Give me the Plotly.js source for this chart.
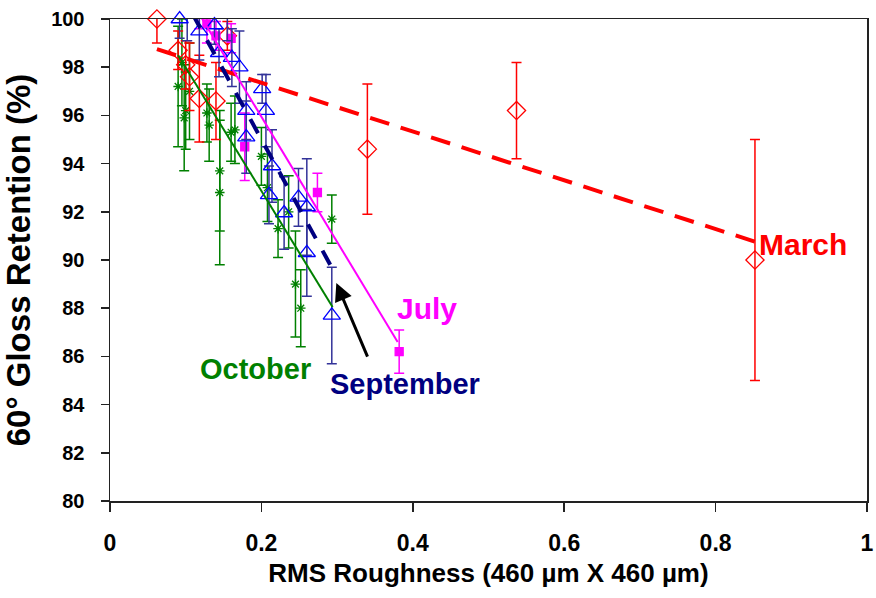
<!DOCTYPE html>
<html>
<head>
<meta charset="utf-8">
<script src="https://cdn.plot.ly/plotly-3.0.1.min.js"></script>
<style>html,body{margin:0;padding:0;background:#fff;}#chart{width:876px;height:598px;}</style>
</head>
<body>
<div id="chart"></div>
<script>
// ---- data ----
const marchX   = [0.062, 0.090, 0.100, 0.105, 0.118, 0.140, 0.155, 0.340, 0.537, 0.852];
const marchY   = [100.0, 98.7, 98.1, 97.6, 96.7, 96.6, 99.3, 94.6, 96.2, 90.0];
const marchErr = [1.0, 0.8, 1.0, 1.4, 1.8, 1.6, 0.6, 2.7, 2.0, 5.0];

const julyX   = [0.118, 0.128, 0.140, 0.160, 0.178, 0.274, 0.382];
const julyY   = [100.4, 99.8, 99.3, 99.2, 94.7, 92.8, 86.2];
const julyErr = [0.8, 0.8, 0.6, 0.6, 1.4, 0.8, 0.9];

const sepX   = [0.092, 0.102, 0.118, 0.138, 0.155, 0.161, 0.144, 0.171, 0.201, 0.180, 0.206, 0.180, 0.214, 0.210, 0.230, 0.249, 0.260, 0.260, 0.293];
const sepY   = [100.0, 100.1, 99.5, 99.75, 100.1, 98.4, 98.6, 98.0, 97.1, 96.2, 96.2, 95.1, 93.9, 92.7, 91.95, 92.6, 92.2, 90.3, 87.7];
const sepErr = [0.8, 1.0, 1.2, 0.8, 1.0, 1.2, 1.0, 1.5, 0.6, 1.2, 1.5, 1.5, 1.5, 1.2, 1.5, 1.2, 2.0, 1.8, 2.0];

const octX   = [0.090, 0.095, 0.100, 0.105, 0.098, 0.128, 0.131, 0.145, 0.160, 0.165, 0.145, 0.200, 0.208, 0.236, 0.222, 0.245, 0.252, 0.293];
const octY   = [97.2, 98.2, 96.2, 97.0, 95.9, 96.1, 95.6, 93.7, 95.3, 95.4, 92.8, 94.3, 93.0, 92.0, 91.3, 89.0, 88.0, 91.7];
const octErr = [2.5, 1.8, 1.6, 2.0, 2.2, 1.2, 1.5, 2.5, 1.2, 1.4, 3.0, 1.2, 1.4, 1.5, 1.2, 2.2, 1.6, 1.0];

// trend lines (end points)
const marchTrendX = [0.062, 0.852];
const marchTrendY = [98.75, 90.76];
const julyTrendX = [0.118, 0.380];
const julyTrendY = [100.2, 86.6];
const sepTrendX = [0.090, 0.291];
const sepTrendY = [101.3, 89.8];
const octTrendX = [0.090, 0.294];
const octTrendY = [98.5, 88.05];

const xTicks = [0, 0.2, 0.4, 0.6, 0.8, 1];
const xTickText = ['0', '0.2', '0.4', '0.6', '0.8', '1'];
const yTicks = [80, 82, 84, 86, 88, 90, 92, 94, 96, 98, 100];

const FONT = 'Liberation Sans, Arial, sans-serif';

function pts(x, y, err, sym, size, mcol, ecol, fill) {
  return {
    x: x, y: y, type: 'scatter', mode: 'markers', cliponaxis: false, showlegend: false,
    marker: {symbol: sym, size: size, color: fill || mcol, line: {color: mcol, width: 1.3}},
    error_y: {type: 'data', array: err, visible: true, color: ecol, thickness: 1.5, width: 5}
  };
}
function trend(x, y, col, w, dash) {
  return {x: x, y: y, type: 'scatter', mode: 'lines', showlegend: false,
    line: {color: col, width: w, dash: dash}};
}

const traces = [
  pts(octX, octY, octErr, 'asterisk-open', 8, '#008000', '#008000'),
  pts(marchX, marchY, marchErr, 'diamond-open', 14, '#FF0000', '#FF0000'),
  pts(julyX, julyY, julyErr, 'square', 8, '#FF00FF', '#FF00FF'),
  pts(sepX, sepY, sepErr, 'triangle-up-open', 15, '#0000FF', '#333399'),
  trend(marchTrendX, marchTrendY, '#FF0000', 4, '20px,12px'),
  trend(julyTrendX, julyTrendY, '#FF00FF', 2, 'solid'),
  trend(sepTrendX, sepTrendY, '#000080', 4, '16px,14px'),
  trend(octTrendX, octTrendY, '#008000', 2, 'solid')
];

const layout = {
  width: 876, height: 598,
  margin: {l: 110, r: 9, t: 19, b: 97},
  paper_bgcolor: '#fff', plot_bgcolor: '#fff',
  font: {family: FONT, color: '#000'},
  xaxis: {
    range: [0, 1], tickvals: xTicks, ticktext: xTickText, ticklabeloverflow: 'allow',
    showgrid: false, zeroline: false, showline: true, mirror: true,
    linecolor: '#222', linewidth: 1.5, ticks: 'outside', ticklen: 9, tickcolor: '#222', tickwidth: 1.5,
    tickfont: {family: FONT, size: 23, weight: 'bold'}, ticklabelstandoff: 12,
    title: {text: 'RMS Roughness (460 µm X 460 µm)', font: {family: FONT, size: 26, weight: 'bold'}, standoff: 8}
  },
  yaxis: {
    range: [80, 100], tickvals: yTicks, ticklabeloverflow: 'allow',
    showgrid: false, zeroline: false, showline: true, mirror: true,
    linecolor: '#222', linewidth: 1.5, ticks: 'outside', ticklen: 8, tickcolor: '#222', tickwidth: 1.5,
    tickfont: {family: FONT, size: 20, weight: 'bold'}, ticklabelstandoff: 12,
    title: {text: '60° Gloss Retention (%)', font: {family: FONT, size: 33, weight: 'bold'}, standoff: 10}
  },
  annotations: [
    {x: 0.916, y: 90.66, xref: 'x', yref: 'y', text: 'March', showarrow: false,
     font: {family: FONT, size: 30, weight: 'bold', color: '#FF0000'}},
    {x: 0.419, y: 87.97, xref: 'x', yref: 'y', text: 'July', showarrow: false,
     font: {family: FONT, size: 30, weight: 'bold', color: '#FF00FF'}},
    {x: 0.192, y: 85.48, xref: 'x', yref: 'y', text: 'October', showarrow: false,
     font: {family: FONT, size: 29, weight: 'bold', color: '#008000'}},
    {x: 0.39, y: 84.85, xref: 'x', yref: 'y', text: 'September', showarrow: false,
     font: {family: FONT, size: 29, weight: 'bold', color: '#000080'}},
    {x: 0.299, y: 89.05, ax: 0.341, ay: 85.93, xref: 'x', yref: 'y', axref: 'x', ayref: 'y',
     text: '', showarrow: true, arrowhead: 2, arrowsize: 1.2, arrowwidth: 3, arrowcolor: '#000'}
  ]
};

Plotly.newPlot('chart', traces, layout, {staticPlot: true});
</script>
</body>
</html>
